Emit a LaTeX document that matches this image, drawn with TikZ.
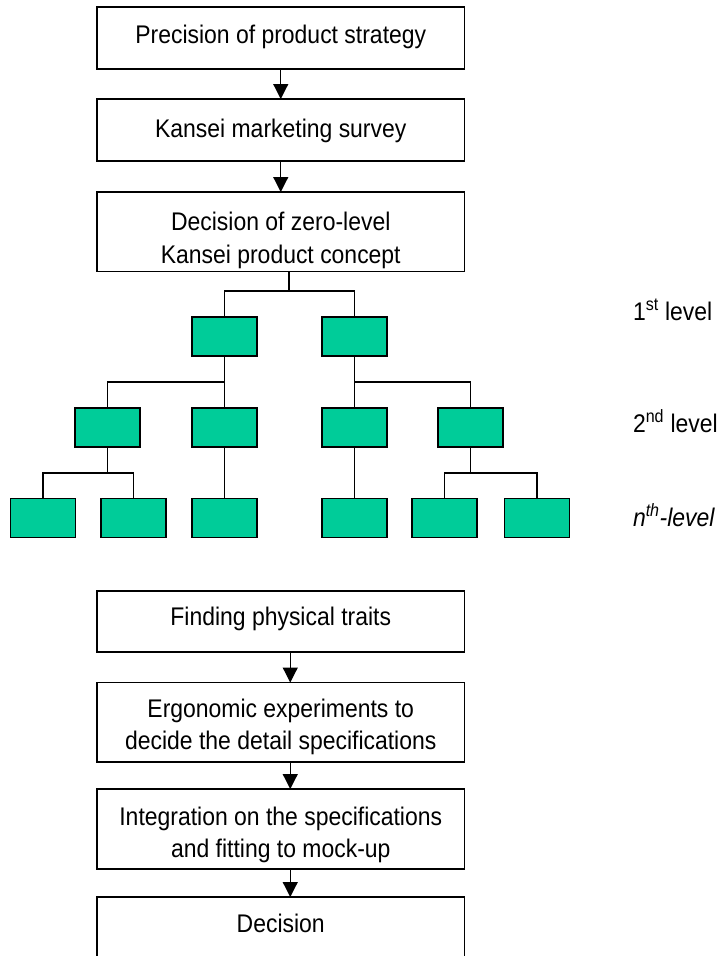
\documentclass[tikz,border=0pt]{standalone}
\usepackage{fontspec}
\setmainfont{Liberation Sans}[FakeStretch=0.9]
\usetikzlibrary{arrows.meta}
\definecolor{leafgreen}{RGB}{0,204,153}
\begin{document}
\begin{tikzpicture}[x=1pt,y=-1pt,
  every node/.style={inner sep=0pt,outer sep=0pt},
  bigbox/.style={draw=black,line width=1.4pt,fill=white,minimum width=367.5pt},
  leaf/.style={draw=black,line width=1.4pt,fill=leafgreen,minimum width=65pt,minimum height=39pt},
  txt/.style={anchor=base,font=\fontsize{25.5}{33}\selectfont},
  lvl/.style={anchor=base west,font=\fontsize{25.5}{33}\selectfont},
  flow/.style={line width=1.2pt,-{Triangle[width=15pt,length=15pt]}},
  tree/.style={line width=1.3pt}]
\useasboundingbox (0,0) rectangle (718,956);
\clip (0,0) rectangle (718,956);

% upper process boxes
\node[bigbox,minimum height=62pt] (b1) at (280.75,38) {};
\node[bigbox,minimum height=62pt] (b2) at (280.75,130) {};
\node[bigbox,minimum height=79.5pt] (b3) at (280.75,231.75) {};
\node[txt] (t1) at (280.75,43) {Precision of product strategy};
\node[txt] (t2) at (280.75,137) {Kansei marketing survey};
\node[txt] (t3a) at (280.75,230) {Decision of zero-level};
\node[txt] (t3b) at (280.75,263) {Kansei product concept};

\draw[flow] (b1.south) -- (b2.north);
\draw[flow] (b2.south) -- (b3.north);

% concept tree
\node[leaf] (g1a) at (224.5,336.5) {};
\node[leaf] (g1b) at (354.5,336.5) {};
\node[leaf] (g2a) at (107.5,427.5) {};
\node[leaf] (g2b) at (224.5,427.5) {};
\node[leaf] (g2c) at (354.5,427.5) {};
\node[leaf] (g2d) at (470.5,427.5) {};
\node[leaf] (gna) at (43,518) {};
\node[leaf] (gnb) at (133.5,518) {};
\node[leaf] (gnc) at (224.5,518) {};
\node[leaf] (gnd) at (354.5,518) {};
\node[leaf] (gne) at (444.5,518) {};
\node[leaf] (gnf) at (537,518) {};

\coordinate (j0) at (289,291);
\coordinate (j1) at (224.5,382);
\coordinate (j2) at (354.5,382);
\coordinate (j3) at (107.5,473);
\coordinate (j4) at (470.5,473);

\draw[tree] ([xshift=8.25pt]b3.south) -- (j0);
\draw[tree] (g1a.north) |- (j0) -| (g1b.north);
\draw[tree] (g1a.south) -- (g2b.north);
\draw[tree] (g2a.north) |- (j1);
\draw[tree] (g1b.south) -- (g2c.north);
\draw[tree] (g2d.north) |- (j2);
\draw[tree] (g2a.south) -- (j3);
\draw[tree] (gna.north) |- (j3) -| (gnb.north);
\draw[tree] (g2b.south) -- (gnc.north);
\draw[tree] (g2c.south) -- (gnd.north);
\draw[tree] (g2d.south) -- (j4);
\draw[tree] (gne.north) |- (j4) -| (gnf.north);

% level labels
\node[lvl] (l1) at (633,320) {1\textsuperscript{st} level};
\node[lvl] (l2) at (633,432) {2\textsuperscript{nd} level};
\node[lvl] (ln) at (633,526) {\itshape n\textsuperscript{th}-level};

% lower process boxes
\node[bigbox,minimum height=61pt] (b4) at (280.75,621.5) {};
\node[bigbox,minimum height=79.5pt] (b5) at (280.75,722.25) {};
\node[bigbox,minimum height=80pt] (b6) at (280.75,829) {};
\node[bigbox,minimum height=100pt] (b7) at (280.75,947) {};
\node[txt] (t4) at (280.75,625) {Finding physical traits};
\node[txt] (t5a) at (280.75,717) {Ergonomic experiments to};
\node[txt] (t5b) at (280.75,749) {decide the detail specifications};
\node[txt] (t6a) at (280.75,825) {Integration on the specifications};
\node[txt] (t6b) at (280.75,857) {and fitting to mock-up};
\node[txt] (t7) at (280.75,932) {Decision};

\draw[flow] ([xshift=9.5pt]b4.south) -- ([xshift=9.5pt]b5.north);
\draw[flow] ([xshift=9.5pt]b5.south) -- ([xshift=9.5pt]b6.north);
\draw[flow] ([xshift=9.5pt]b6.south) -- ([xshift=9.5pt]b7.north);
\end{tikzpicture}
\end{document}
